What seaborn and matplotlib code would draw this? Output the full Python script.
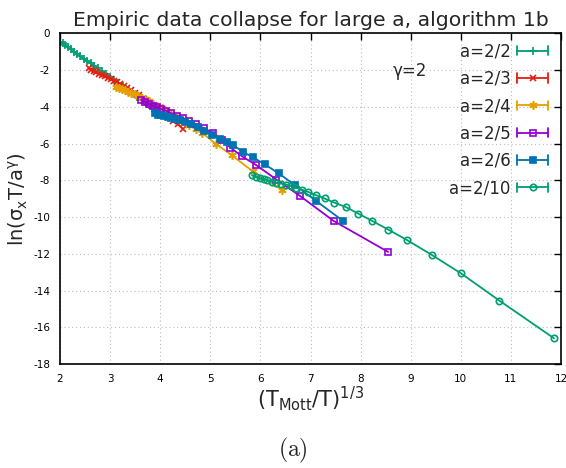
import numpy as np
import pandas as pd
import matplotlib
matplotlib.use("Agg")
import matplotlib.pyplot as plt
import seaborn as sns
from matplotlib.lines import Line2D
from matplotlib.legend_handler import HandlerLine2D

# ---- data: scaled conductivity vs (T_Mott/T)^(1/3) for several a ----
labels = ["a=2/2", "a=2/3", "a=2/4", "a=2/5", "a=2/6", "a=2/10"]

x_a22 = [2.00, 2.05, 2.10, 2.16, 2.22, 2.28, 2.34, 2.40, 2.47, 2.54, 2.61, 2.68, 2.75,
         2.83, 2.91, 2.99, 3.07, 3.16, 3.25, 3.34, 3.43, 3.53, 3.63, 3.73, 3.84, 3.95]
y_a22 = [-0.45, -0.54, -0.64, -0.76, -0.88, -1.00, -1.12, -1.24, -1.38, -1.51, -1.64, -1.77, -1.90,
         -2.05, -2.20, -2.36, -2.52, -2.70, -2.88, -3.06, -3.24, -3.44, -3.64, -3.85, -4.08, -4.32]

x_a23 = [2.57, 2.62, 2.67, 2.72, 2.77, 2.83, 2.89, 2.95, 3.01, 3.07, 3.13, 3.20, 3.27,
         3.34, 3.42, 3.50, 3.58, 3.67, 3.76, 3.85, 3.95, 4.05, 4.15, 4.25, 4.35, 4.46]
y_a23 = [-1.91, -1.98, -2.05, -2.12, -2.19, -2.27, -2.35, -2.43, -2.51, -2.58, -2.66, -2.76, -2.86,
         -2.97, -3.10, -3.24, -3.38, -3.55, -3.72, -3.95, -4.15, -4.35, -4.55, -4.75, -4.95, -5.22]

x_a24 = [3.12, 3.18, 3.24, 3.30, 3.36, 3.42, 3.49, 3.56, 3.63, 3.70, 3.78, 3.86, 3.94,
         4.03, 4.12, 4.22, 4.33, 4.45, 4.58, 4.72, 4.84, 5.11, 5.43, 5.85, 6.43]
y_a24 = [-2.91, -2.97, -3.03, -3.10, -3.17, -3.24, -3.32, -3.41, -3.50, -3.60, -3.71, -3.83, -3.95,
         -4.09, -4.23, -4.40, -4.58, -4.78, -5.00, -5.20, -5.42, -6.02, -6.64, -7.52, -8.52]

x_a25 = [3.62, 3.70, 3.78, 3.86, 3.94, 4.02, 4.12, 4.22, 4.33, 4.45, 4.58,
         4.72, 4.88, 5.06, 5.24, 5.40, 5.63, 5.92, 6.32, 6.79, 7.46, 8.55]
y_a25 = [-3.62, -3.75, -3.85, -3.95, -4.03, -4.12, -4.22, -4.35, -4.48, -4.62, -4.78,
         -4.95, -5.18, -5.45, -5.82, -6.22, -6.69, -7.18, -7.96, -8.85, -10.21, -11.90]

x_a26 = [3.90, 3.96, 4.02, 4.08, 4.15, 4.22, 4.30, 4.40, 4.50, 4.62, 4.75, 4.88,
         5.03, 5.20, 5.33, 5.46, 5.65, 5.86, 6.09, 6.37, 6.69, 7.11, 7.65]
y_a26 = [-4.35, -4.42, -4.45, -4.50, -4.55, -4.60, -4.65, -4.72, -4.82, -4.95, -5.10, -5.30,
         -5.54, -5.75, -5.90, -6.09, -6.45, -6.76, -7.14, -7.63, -8.27, -9.12, -10.21]

x_a210 = [5.83, 5.92, 5.99, 6.07, 6.14, 6.23, 6.32, 6.42, 6.52, 6.62, 6.72, 6.84, 6.96,
          7.10, 7.28, 7.47, 7.70, 7.95, 8.23, 8.55, 8.93, 9.42, 10.00, 10.77, 11.86]
y_a210 = [-7.72, -7.82, -7.90, -7.95, -8.00, -8.07, -8.14, -8.18, -8.24, -8.32, -8.42, -8.52, -8.64,
          -8.80, -8.99, -9.21, -9.45, -9.81, -10.21, -10.68, -11.26, -12.06, -13.06, -14.55, -16.60]

xs = [x_a22, x_a23, x_a24, x_a25, x_a26, x_a210]
ys = [y_a22, y_a23, y_a24, y_a25, y_a26, y_a210]

# ---- styles (gnuplot-like palette and point types) ----
colors = ["#009e73", "#e51e10", "#e69f00", "#9400d3", "#0072b2", "#009e73"]
markers = ["+", "x", (6, 2, 0), "s", "s", "o"]
faces = ["none", "none", "none", "none", "#0072b2", "none"]
msizes = [6, 5, 6, 5, 5, 4.6]

sns.set_style("white")
plt.rcParams["font.family"] = ["DejaVu Sans"]
plt.rcParams["axes.unicode_minus"] = False

fig = plt.figure(figsize=(5.66, 4.68), dpi=100)
ax = fig.add_axes([60 / 566, 1 - 364 / 468, 501 / 566, 330.7 / 468])

handles = []
for x, y, c, m, fc, ms, lab in zip(xs, ys, colors, markers, faces, msizes, labels):
    df = pd.DataFrame({"x": x, "y": y})
    sns.lineplot(data=df, x="x", y="y", ax=ax, sort=False, estimator=None,
                 color=c, marker=m, markersize=ms, markerfacecolor=fc,
                 markeredgecolor=c, markeredgewidth=1.2, linewidth=1.3)
    handles.append(Line2D([], [], color=c, marker=m, markersize=ms, markerfacecolor=fc,
                          markeredgecolor=c, markeredgewidth=1.2, linewidth=1.3, label=lab))


class CapHandler(HandlerLine2D):
    """Legend sample drawn as a horizontal error bar with end caps."""

    def create_artists(self, legend, orig_handle, xdescent, ydescent,
                       width, height, fontsize, trans):
        arts = super().create_artists(legend, orig_handle, xdescent, ydescent,
                                      width, height, fontsize, trans)
        yc = (height - ydescent) / 2
        h = 0.28 * fontsize
        for xc in (-xdescent, -xdescent + width):
            cap = Line2D([xc, xc], [yc - h, yc + h], color=orig_handle.get_color(),
                         linewidth=1.3)
            cap.set_transform(trans)
            arts.append(cap)
        return arts


ax.set_xlim(2, 12)
ax.set_ylim(-18, 0)
ax.set_xticks(np.arange(2, 13, 1))
ax.set_yticks(np.arange(-18, 1, 2))
ax.tick_params(direction="in", length=5, width=1, top=True, right=True,
               labelsize=7.5, pad=7, colors="black")
ax.grid(True, linestyle=(0, (1, 2.5)), color="#bdbdbd", linewidth=0.8)
for s in ax.spines.values():
    s.set_visible(True)
    s.set_color("black")
    s.set_linewidth(1.2)

ax.set_xlabel(r"(T$_\mathrm{Mott}$/T)$^\mathrm{1/3}$", fontsize=15, labelpad=0)
ax.set_ylabel(r"ln(σ$_\mathrm{x}$T/a$^\mathrm{γ}$)", fontsize=14)
ax.yaxis.set_label_coords(-0.059, 0.5)
ax.set_title("Empiric data collapse for large a, algorithm 1b", fontsize=14.7, pad=5)

ax.text(8.99, -2.05, "γ=2", fontsize=12, ha="center", va="center")

leg = ax.legend(handles=handles, loc="upper right", bbox_to_anchor=(0.9747, 0.972),
                frameon=False, markerfirst=False, fontsize=12, handlelength=1.85,
                handletextpad=0.4, labelspacing=0.56, borderpad=0, borderaxespad=0,
                handler_map={Line2D: CapHandler(numpoints=1)})

fig.text(293 / 566, 1 - 450 / 468, r"$\mathrm{(a)}$", math_fontfamily="cm",
         fontsize=17, ha="center", va="center")

fig.savefig("out.png", dpi=100)
